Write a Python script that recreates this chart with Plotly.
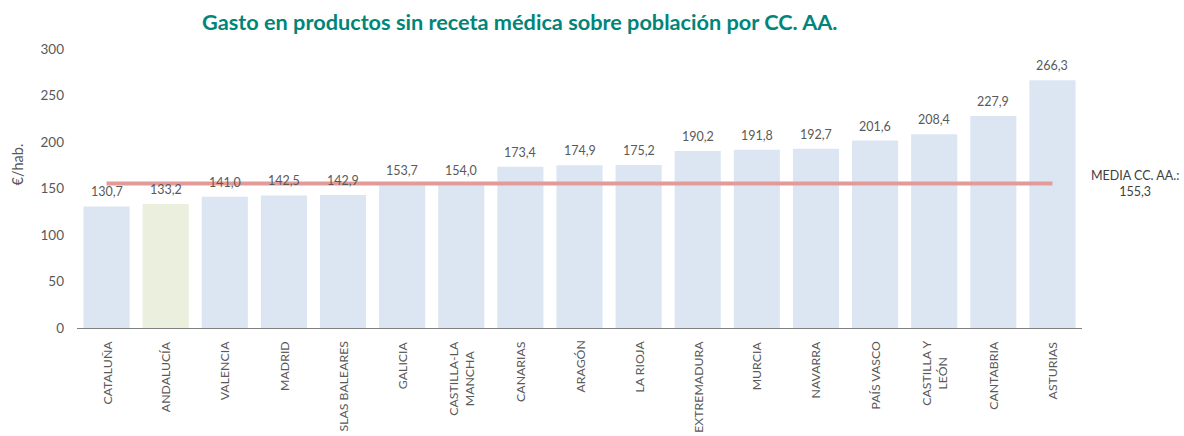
import plotly.graph_objects as go

categories = ["CATALUÑA", "ANDALUCÍA", "VALENCIA", "MADRID", "SLAS BALEARES", "GALICIA",
              "CASTILLA-LA<br>MANCHA", "CANARIAS", "ARAGÓN", "LA RIOJA", "EXTREMADURA",
              "MURCIA", "NAVARRA", "PAÍS VASCO", "CASTILLA Y<br>LEÓN", "CANTABRIA", "ASTURIAS"]
values = [130.7, 133.2, 141.0, 142.5, 142.9, 153.7, 154.0, 173.4, 174.9, 175.2, 190.2,
          191.8, 192.7, 201.6, 208.4, 227.9, 266.3]
mean_value = 155.3
highlight = "ANDALUCÍA"

font_family = "Lato, 'Noto Sans', sans-serif"
grey = "#595959"
colors = ["#ebf0de" if c == highlight else "#dce6f2" for c in categories]


def fmt(v):
    return f"{v:.1f}".replace(".", ",")


fig = go.Figure()
fig.add_trace(go.Bar(
    x=categories, y=values, marker=dict(color=colors, line=dict(width=0)),
    showlegend=False, hoverinfo="y",
))
fig.add_trace(go.Scatter(
    x=[categories[0], categories[-1]], y=[mean_value, mean_value], mode="lines",
    line=dict(color="#e29b99", width=4), showlegend=False,
))
for c, v in zip(categories, values):
    # value label above each bar
    fig.add_annotation(
        x=c, y=v, xref="x", yref="y", text=fmt(v), showarrow=False,
        yanchor="bottom", yshift=5, xanchor="center",
        font=dict(size=12.5, color=grey, family=font_family),
    )
    # rotated category label under the axis (centred multi-line)
    fig.add_annotation(
        x=c, y=0, xref="x", yref="y", text=c, showarrow=False, textangle=-90,
        yanchor="top", yshift=-11, xanchor="center", align="center",
        font=dict(size=12.3, color=grey, family=font_family),
    )
fig.add_annotation(
    x=1.053, xref="paper", y=mean_value, yref="y", xanchor="center", yanchor="middle",
    text="MEDIA CC. AA.:<br>" + fmt(mean_value), showarrow=False,
    font=dict(size=12.5, color="#404040", family=font_family), align="center",
)
fig.add_annotation(
    x=-0.059, xref="paper", y=0.585, yref="paper", xanchor="center", yanchor="middle",
    text="€/hab.", showarrow=False, textangle=-90,
    font=dict(size=14.5, color=grey, family=font_family),
)
fig.update_layout(
    width=1184, height=436,
    margin=dict(l=77, r=102, t=49, b=108, autoexpand=False),
    paper_bgcolor="white", plot_bgcolor="white",
    bargap=0.22,
    font=dict(family=font_family, color=grey, size=12),
    title=dict(text="<b>Gasto en productos sin receta médica sobre población por CC. AA.</b>",
               x=0.439, xanchor="center", y=0.9495, yanchor="middle",
               font=dict(size=21.7, color="#00857a", family=font_family)),
    xaxis=dict(showline=True, linecolor="#808080", linewidth=1, automargin=False,
               ticks="", showticklabels=False, showgrid=False),
    yaxis=dict(range=[0, 300], dtick=50, showgrid=False, zeroline=False, showline=False,
               automargin=False, ticklabelstandoff=12,
               tickfont=dict(size=13.5, color=grey), ticks="", ticklen=0),
)
fig.write_html(
    "out.html",
    config={"displayModeBar": False},
    post_script="document.body.style.margin='0';document.body.style.overflow='hidden';"
                "document.documentElement.style.overflow='hidden';",
)
